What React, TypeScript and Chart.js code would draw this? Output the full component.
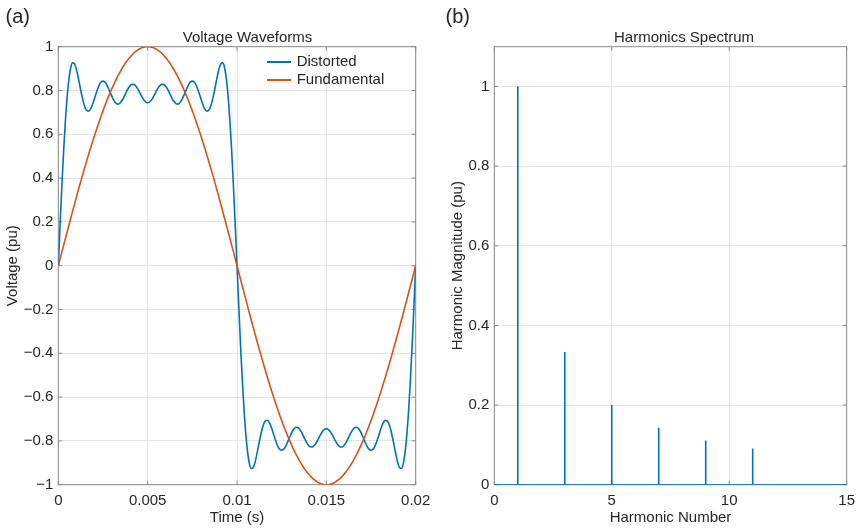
import React, { useEffect, useRef } from "react";
import { Chart, registerables } from "chart.js";
Chart.register(...registerables);

// ---- Panel (b): harmonic spectrum ----
const harmonicOrders = [1, 3, 5, 7, 9, 11];
const harmonicMagnitudes = [1, 0.333, 0.2, 0.143, 0.111, 0.091];

// ---- Panel (a): waveforms sampled every 0.1 ms over one 50 Hz cycle (0 .. 0.02 s) ----
const timeStep = 0.0001;
const distorted = [
  0, 0.187, 0.365, 0.527, 0.666, 0.776, 0.856, 0.906, 0.926, 0.923,
  0.901, 0.865, 0.824, 0.784, 0.748, 0.722, 0.708, 0.706, 0.715, 0.733,
  0.757, 0.783, 0.807, 0.827, 0.839, 0.843, 0.839, 0.828, 0.811, 0.792,
  0.773, 0.756, 0.744, 0.738, 0.739, 0.747, 0.759, 0.775, 0.792, 0.808,
  0.82, 0.827, 0.828, 0.823, 0.813, 0.799, 0.783, 0.768, 0.755, 0.747,
  0.744, 0.747, 0.755, 0.768, 0.783, 0.799, 0.813, 0.823, 0.828, 0.827,
  0.82, 0.808, 0.792, 0.775, 0.759, 0.747, 0.739, 0.738, 0.744, 0.756,
  0.773, 0.792, 0.811, 0.828, 0.839, 0.843, 0.839, 0.827, 0.807, 0.783,
  0.757, 0.733, 0.715, 0.706, 0.708, 0.722, 0.748, 0.784, 0.824, 0.865,
  0.901, 0.923, 0.926, 0.906, 0.856, 0.776, 0.666, 0.527, 0.365, 0.187,
  0, -0.187, -0.365, -0.527, -0.666, -0.776, -0.856, -0.906, -0.926, -0.923,
  -0.901, -0.865, -0.824, -0.784, -0.748, -0.722, -0.708, -0.706, -0.715, -0.733,
  -0.757, -0.783, -0.807, -0.827, -0.839, -0.843, -0.839, -0.828, -0.811, -0.792,
  -0.773, -0.756, -0.744, -0.738, -0.739, -0.747, -0.759, -0.775, -0.792, -0.808,
  -0.82, -0.827, -0.828, -0.823, -0.813, -0.799, -0.783, -0.768, -0.755, -0.747,
  -0.744, -0.747, -0.755, -0.768, -0.783, -0.799, -0.813, -0.823, -0.828, -0.827,
  -0.82, -0.808, -0.792, -0.775, -0.759, -0.747, -0.739, -0.738, -0.744, -0.756,
  -0.773, -0.792, -0.811, -0.828, -0.839, -0.843, -0.839, -0.827, -0.807, -0.783,
  -0.757, -0.733, -0.715, -0.706, -0.708, -0.722, -0.748, -0.784, -0.824, -0.865,
  -0.901, -0.923, -0.926, -0.906, -0.856, -0.776, -0.666, -0.527, -0.365, -0.187,
  0,
];
const fundamental = [
  0, 0.031, 0.063, 0.094, 0.125, 0.156, 0.187, 0.218, 0.249, 0.279,
  0.309, 0.339, 0.368, 0.397, 0.426, 0.454, 0.482, 0.509, 0.536, 0.562,
  0.588, 0.613, 0.637, 0.661, 0.685, 0.707, 0.729, 0.75, 0.771, 0.79,
  0.809, 0.827, 0.844, 0.861, 0.876, 0.891, 0.905, 0.918, 0.93, 0.941,
  0.951, 0.96, 0.969, 0.976, 0.982, 0.988, 0.992, 0.996, 0.998, 1,
  1, 1, 0.998, 0.996, 0.992, 0.988, 0.982, 0.976, 0.969, 0.96,
  0.951, 0.941, 0.93, 0.918, 0.905, 0.891, 0.876, 0.861, 0.844, 0.827,
  0.809, 0.79, 0.771, 0.75, 0.729, 0.707, 0.685, 0.661, 0.637, 0.613,
  0.588, 0.562, 0.536, 0.509, 0.482, 0.454, 0.426, 0.397, 0.368, 0.339,
  0.309, 0.279, 0.249, 0.218, 0.187, 0.156, 0.125, 0.094, 0.063, 0.031,
  0, -0.031, -0.063, -0.094, -0.125, -0.156, -0.187, -0.218, -0.249, -0.279,
  -0.309, -0.339, -0.368, -0.397, -0.426, -0.454, -0.482, -0.509, -0.536, -0.562,
  -0.588, -0.613, -0.637, -0.661, -0.685, -0.707, -0.729, -0.75, -0.771, -0.79,
  -0.809, -0.827, -0.844, -0.861, -0.876, -0.891, -0.905, -0.918, -0.93, -0.941,
  -0.951, -0.96, -0.969, -0.976, -0.982, -0.988, -0.992, -0.996, -0.998, -1,
  -1, -1, -0.998, -0.996, -0.992, -0.988, -0.982, -0.976, -0.969, -0.96,
  -0.951, -0.941, -0.93, -0.918, -0.905, -0.891, -0.876, -0.861, -0.844, -0.827,
  -0.809, -0.79, -0.771, -0.75, -0.729, -0.707, -0.685, -0.661, -0.637, -0.613,
  -0.588, -0.562, -0.536, -0.509, -0.482, -0.454, -0.426, -0.397, -0.368, -0.339,
  -0.309, -0.279, -0.249, -0.218, -0.187, -0.156, -0.125, -0.094, -0.063, -0.031,
  0,
];
const times = distorted.map((_, i) => +(i * timeStep).toFixed(4));

// ---- Tick values / labels ----
const timeTickValues = [0, 0.005, 0.01, 0.015, 0.02];
const timeTickLabels = ["0", "0.005", "0.01", "0.015", "0.02"];
const voltTickValues = [-1, -0.8, -0.6, -0.4, -0.2, 0, 0.2, 0.4, 0.6, 0.8, 1];
const voltTickLabels = ["\u22121", "\u22120.8", "\u22120.6", "\u22120.4", "\u22120.2", "0", "0.2", "0.4", "0.6", "0.8", "1"];
const harmTickValues = [0, 5, 10, 15];
const harmTickLabels = ["0", "5", "10", "15"];
const magTickValues = [0, 0.2, 0.4, 0.6, 0.8, 1];
const magTickLabels = ["0", "0.2", "0.4", "0.6", "0.8", "1"];

const BLUE = "#0072BD";
const ORANGE = "#D95319";
const AXIS = "#8a8a8a";
const GRID = "#e6e6e6";
const TEXT = "#262626";
const FONT = "'Liberation Sans', Arial, Helvetica, sans-serif";

const boxPlugin = {
  id: "matlabBox",
  beforeDatasetsDraw(chart: any) {
    const { ctx, chartArea: a, scales } = chart;
    ctx.save();
    ctx.strokeStyle = AXIS;
    ctx.lineWidth = 1;
    ctx.strokeRect(a.left, a.top, a.right - a.left, a.bottom - a.top);
    const len = 4;
    ctx.beginPath();
    scales.x.ticks.forEach((t: any) => {
      const p = scales.x.getPixelForValue(t.value);
      ctx.moveTo(p, a.bottom); ctx.lineTo(p, a.bottom - len);
      ctx.moveTo(p, a.top); ctx.lineTo(p, a.top + len);
    });
    scales.y.ticks.forEach((t: any) => {
      const p = scales.y.getPixelForValue(t.value);
      ctx.moveTo(a.left, p); ctx.lineTo(a.left + len, p);
      ctx.moveTo(a.right, p); ctx.lineTo(a.right - len, p);
    });
    ctx.stroke();
    ctx.restore();
  },
};

function axisCommon(values: number[], labels: string[], min: number, max: number, title: string, isX: boolean, size: number, titlePad: any) {
  return {
    type: "linear",
    min, max,
    afterBuildTicks: (sc: any) => { sc.ticks = values.map((v) => ({ value: v })); },
    afterFit: (sc: any) => { if (isX) sc.height = size; else sc.width = size; },
    ticks: {
      autoSkip: false, maxRotation: 0, padding: isX ? 7 : 5, color: TEXT,
      font: { family: FONT, size: 15 },
      callback: (_v: any, i: number) => labels[i],
    },
    grid: { color: GRID, lineWidth: 1, drawTicks: false },
    border: { display: false },
    title: { display: true, text: title, color: TEXT, font: { family: FONT, size: 15 }, padding: titlePad },
  };
}

function LeftChart() {
  const ref = useRef<HTMLCanvasElement>(null);
  useEffect(() => {
    const chart = new Chart(ref.current!, {
      type: "line",
      data: {
        datasets: [
          { label: "Distorted", data: times.map((t, i) => ({ x: t, y: distorted[i] })), borderColor: BLUE, borderWidth: 1.6, pointRadius: 0, cubicInterpolationMode: "monotone", order: 1 },
          { label: "Fundamental", data: times.map((t, i) => ({ x: t, y: fundamental[i] })), borderColor: ORANGE, borderWidth: 1.6, pointRadius: 0, cubicInterpolationMode: "monotone", order: 0 },
        ],
      },
      options: {
        animation: false, responsive: false, maintainAspectRatio: false,
        layout: { padding: { left: 0, right: 24.3, top: 46.7, bottom: 0 } },
        plugins: { legend: { display: false }, tooltip: { enabled: false } },
        scales: {
          x: axisCommon(timeTickValues, timeTickLabels, 0, 0.02, "Time (s)", true, 46.3, { top: 0, bottom: 3.9 }),
          y: axisCommon(voltTickValues, voltTickLabels, -1, 1, "Voltage (pu)", false, 58.3, { top: 4.3, bottom: 0 }),
        },
      } as any,
      plugins: [boxPlugin],
    });
    return () => chart.destroy();
  }, []);
  return <canvas ref={ref} width={440} height={531} style={{ position: "absolute", left: 0, top: 0, width: 440, height: 531 }} />;
}

function RightChart() {
  const ref = useRef<HTMLCanvasElement>(null);
  useEffect(() => {
    const stems: any[] = [];
    harmonicOrders.forEach((h, i) => {
      stems.push({ x: h, y: 0 }, { x: h, y: harmonicMagnitudes[i] }, { x: h, y: null });
    });
    const chart = new Chart(ref.current!, {
      type: "line",
      data: {
        datasets: [
          { label: "Stems", data: stems, borderColor: BLUE, borderWidth: 1.6, pointRadius: 0, spanGaps: false },
          { label: "Baseline", data: [{ x: 0, y: 0 }, { x: 15, y: 0 }], borderColor: BLUE, borderWidth: 1.6, pointRadius: 0 },
        ],
      },
      options: {
        animation: false, responsive: false, maintainAspectRatio: false,
        layout: { padding: { left: 0, right: 8.7, top: 46.7, bottom: 0 } },
        plugins: { legend: { display: false }, tooltip: { enabled: false } },
        scales: {
          x: axisCommon(harmTickValues, harmTickLabels, 0, 15, "Harmonic Number", true, 46.3, { top: 0, bottom: 3.9 }),
          y: axisCommon(magTickValues, magTickLabels, 0, 1.1, "Harmonic Magnitude (pu)", false, 54.3, { top: 8.5, bottom: 0 }),
        },
      } as any,
      plugins: [boxPlugin],
    });
    return () => chart.destroy();
  }, []);
  return <canvas ref={ref} width={422} height={531} style={{ position: "absolute", left: 440, top: 0, width: 422, height: 531 }} />;
}

const txt: React.CSSProperties = { position: "absolute", fontFamily: FONT, color: TEXT, whiteSpace: "nowrap" };

export default function App() {
  return (
    <div style={{ position: "absolute", left: 0, top: 0, width: 862, height: 531, background: "#fff", overflow: "hidden" }}>
      <LeftChart />
      <RightChart />
      <div style={{ ...txt, left: 5.5, top: 4.2, fontSize: 20, lineHeight: "24px" }}>(a)</div>
      <div style={{ ...txt, left: 445.5, top: 4.2, fontSize: 20, lineHeight: "24px" }}>(b)</div>
      <div style={{ ...txt, left: 147.5, width: 200, textAlign: "center", top: 28.1, fontSize: 15, lineHeight: "18px" }}>Voltage Waveforms</div>
      <div style={{ ...txt, left: 584, width: 200, textAlign: "center", top: 28.1, fontSize: 15, lineHeight: "18px" }}>Harmonics Spectrum</div>
      <div style={{ position: "absolute", left: 267, top: 61, width: 24, height: 2, background: BLUE }} />
      <div style={{ position: "absolute", left: 267, top: 79, width: 24, height: 2, background: ORANGE }} />
      <div style={{ ...txt, left: 296.7, top: 52.4, fontSize: 15, lineHeight: "18px" }}>Distorted</div>
      <div style={{ ...txt, left: 296.7, top: 70.4, fontSize: 15, lineHeight: "18px" }}>Fundamental</div>
    </div>
  );
}
